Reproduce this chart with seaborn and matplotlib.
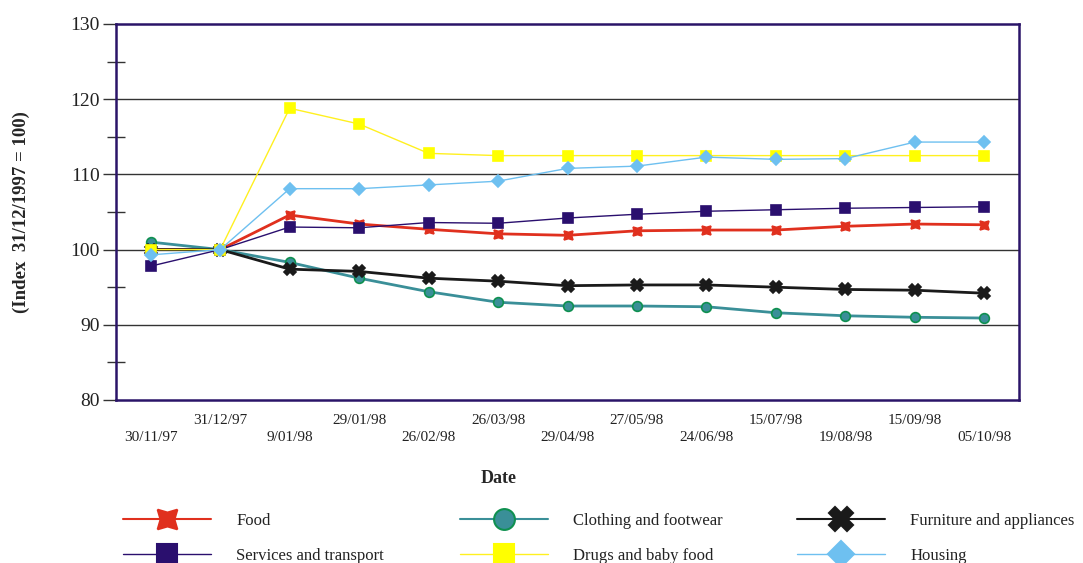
import matplotlib
matplotlib.use("Agg")
import matplotlib.pyplot as plt
from matplotlib.lines import Line2D
from matplotlib.ticker import MultipleLocator
import seaborn as sns
import numpy as np

# Survey dates (categorical, evenly spaced)
dates = ["30/11/97", "31/12/97", "9/01/98", "29/01/98", "26/02/98", "26/03/98",
         "29/04/98", "27/05/98", "24/06/98", "15/07/98", "19/08/98", "15/09/98",
         "05/10/98"]

# Price index per group (31/12/1997 = 100)
food = [100.0, 100.0, 104.6, 103.4, 102.7, 102.1, 101.9, 102.5, 102.6, 102.6, 103.1, 103.4, 103.3]
clothing = [101.0, 100.0, 98.3, 96.2, 94.4, 93.0, 92.5, 92.5, 92.4, 91.6, 91.2, 91.0, 90.9]
furniture = [100.0, 100.0, 97.4, 97.1, 96.2, 95.8, 95.2, 95.3, 95.3, 95.0, 94.7, 94.6, 94.2]
services = [97.8, 100.0, 103.0, 102.9, 103.6, 103.5, 104.2, 104.7, 105.1, 105.3, 105.5, 105.6, 105.7]
drugs = [100.0, 100.0, 118.8, 116.7, 112.8, 112.5, 112.5, 112.5, 112.5, 112.5, 112.5, 112.5, 112.5]
housing = [99.3, 100.0, 108.1, 108.1, 108.6, 109.1, 110.8, 111.1, 112.3, 112.0, 112.1, 114.3, 114.3]

sns.set_theme(style="white")
plt.rcParams["font.family"] = ["Liberation Serif", "DejaVu Serif"]

NAVY = "#2a1468"
STAR = (4, 1, 45)

series = [
    dict(name="Food", y=food, color="#e0301e", lw=2.0, marker=STAR, mfc="#e0301e", mec="#e0301e", ms=9, lms=20),
    dict(name="Clothing and footwear", y=clothing, color="#3a8f98", lw=2.0, marker="o", mfc="#3a8f98", mec="#0f9050", ms=7, lms=15),
    dict(name="Furniture and appliances", y=furniture, color="#1a1a1a", lw=2.0, marker="X", mfc="#1a1a1a", mec="#1a1a1a", ms=9, lms=17),
    dict(name="Services and transport", y=services, color="#2a0f6e", lw=1.0, marker="s", mfc="#2a0f6e", mec="#2a0f6e", ms=7, lms=15),
    dict(name="Drugs and baby food", y=drugs, color="#fff020", lw=1.0, marker="s", mfc="#ffff00", mec="#ffff00", ms=7, lms=15),
    dict(name="Housing", y=housing, color="#6ec0f0", lw=1.0, marker="D", mfc="#6ec0f0", mec="#6ec0f0", ms=6, lms=13),
]

fig = plt.figure(figsize=(10.83, 5.63), dpi=100)
ax = fig.add_axes([116 / 1083, 1 - 400 / 563, (1019 - 116) / 1083, (400 - 24) / 563])

x = np.arange(len(dates))
for s in series:
    sns.lineplot(x=x, y=s["y"], ax=ax, color=s["color"], linewidth=s["lw"],
                 marker=s["marker"], markerfacecolor=s["mfc"], markeredgecolor=s["mec"],
                 markersize=s["ms"], markeredgewidth=1.2, legend=False, zorder=3)

ax.set_xlim(-0.5, len(dates) - 0.5)
ax.set_ylim(80, 130)
ax.yaxis.set_major_locator(MultipleLocator(10))
ax.yaxis.set_minor_locator(MultipleLocator(5))
ax.grid(False)
for v in (90, 100, 110, 120):
    ax.axhline(v, color="#333333", linewidth=1.0, zorder=1)

for sp in ax.spines.values():
    sp.set_color(NAVY)
    sp.set_linewidth(1.8)
    sp.set_visible(True)

ax.tick_params(axis="y", which="major", direction="out", length=9.5, width=1.0,
               color="#333333", labelsize=14, pad=2, left=True)
ax.tick_params(axis="y", which="minor", direction="inout", length=13, width=1.0,
               color="#333333", left=True)
ax.set_yticks([80, 90, 100, 110, 120, 130])
ax.set_yticklabels(["80", "90", "100", "110", "120", "130"], color="#222222")

# alternate the date labels on two rows
xlabels = [("\n" + d) if i % 2 == 0 else d for i, d in enumerate(dates)]
ax.set_xticks(x)
ax.set_xticklabels(xlabels, fontsize=11, color="#222222", linespacing=1.45)
ax.tick_params(axis="x", length=0, pad=10)

ax.set_xlabel("Date", fontsize=13, fontweight="bold")
ax.set_ylabel("(Index  31/12/1997 = 100)", fontsize=13.5, fontweight="bold")
ax.xaxis.set_label_coords(0.424, -0.185)
ax.yaxis.set_label_coords(-0.095, 0.5)

# legend: three columns of two entries
cols = [(0, 3), (1, 4), (2, 5)]
xs = [123 / 1083, 460 / 1083, 797 / 1083]
for (a, b), xpos in zip(cols, xs):
    handles = []
    for s in (series[a], series[b]):
        handles.append(Line2D([0], [0], color=s["color"], linewidth=1.5 if s["lw"] > 1 else 1.0,
                              marker=s["marker"], markerfacecolor=s["mfc"],
                              markeredgecolor=s["mec"], markersize=s["lms"],
                              markeredgewidth=1.5, label=s["name"]))
    fig.legend(handles=handles, loc="center left", bbox_to_anchor=(xpos, 1 - 538.5 / 563),
               frameon=False, fontsize=12, handlelength=5.3, handletextpad=1.5,
               labelspacing=1.15, borderpad=0, borderaxespad=0, labelcolor="#222222")

fig.savefig("out.png", dpi=100)
